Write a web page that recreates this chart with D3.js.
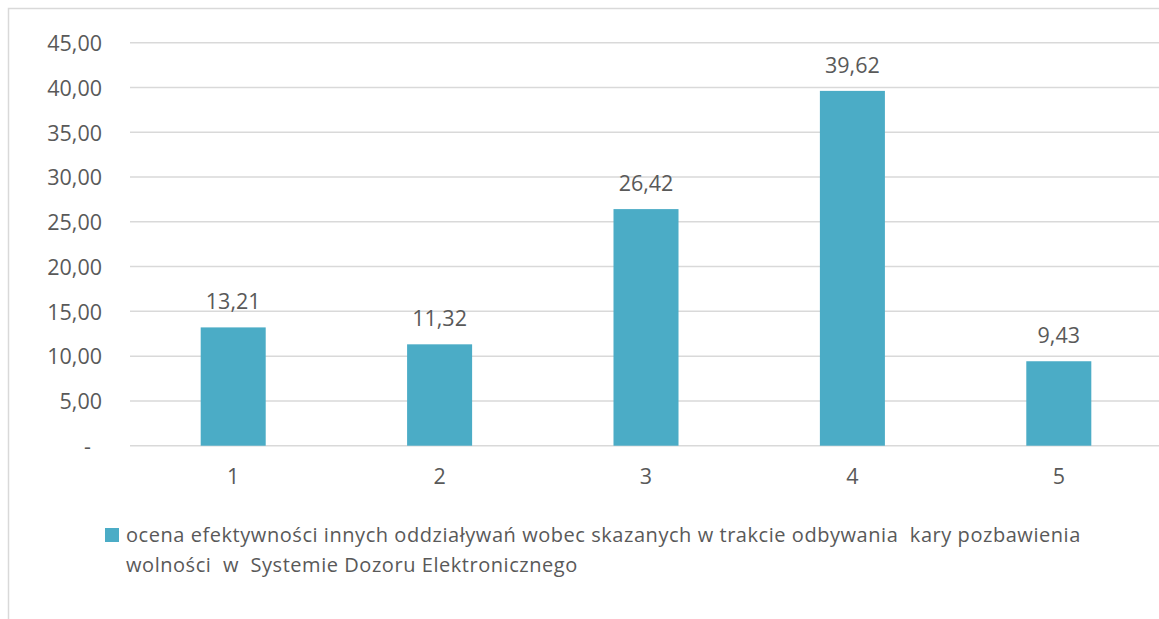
<!DOCTYPE html>
<html>
<head>
<meta charset="utf-8">
<script src="https://cdn.jsdelivr.net/npm/d3@7"></script>
<style>
  html, body { margin: 0; padding: 0; background: #fff; }
  svg { display: block; }
</style>
</head>
<body>
<svg id="chart" width="1159" height="619"></svg>
<script>
const categories = ["1", "2", "3", "4", "5"];
const values = [13.21, 11.32, 26.42, 39.62, 9.43];
const yTicks = [0, 5, 10, 15, 20, 25, 30, 35, 40, 45];
const legendLines = [
  "ocena efektywności innych oddziaływań wobec skazanych w trakcie odbywania  kary pozbawienia",
  "wolności  w  Systemie Dozoru Elektronicznego"
];

const W = 1159, H = 619;
const font = "'Open Sans', 'Noto Sans', sans-serif";
const textColor = "#595959";
const gridColor = "#d9d9d9";
const barColor = "#4bacc6";

const svg = d3.select("#chart");

// outer chart border (extends past the visible window on right/bottom)
svg.append("rect")
  .attr("x", 8.5).attr("y", 8.5)
  .attr("width", W + 50).attr("height", H + 50)
  .attr("fill", "#fff")
  .attr("stroke", gridColor).attr("stroke-width", 1.5);

const x = d3.scaleBand()
  .domain(categories)
  .range([130, 1162])
  .paddingInner(0.685)
  .paddingOuter(0.3425);

const y = d3.scaleLinear()
  .domain([0, 45])
  .range([445.7, 42.7]);

const fmt = v => v === 0 ? "-" : d3.format(".2f")(v).replace(".", ",");

// gridlines
svg.append("g")
  .selectAll("line")
  .data(yTicks)
  .join("line")
  .attr("x1", 130).attr("x2", W + 5)
  .attr("y1", d => y(d)).attr("y2", d => y(d))
  .attr("stroke", gridColor).attr("stroke-width", 1.5);

// y axis labels
const yAxis = d3.axisLeft(y).tickValues(yTicks).tickFormat(fmt).tickSize(0).tickPadding(0);
const gy = svg.append("g").attr("transform", "translate(102,0)").call(yAxis);
gy.select(".domain").remove();
gy.selectAll("text")
  .attr("font-family", font).attr("font-size", 21.5)
  .attr("fill", textColor)
  .attr("dy", "0.36em")
  .attr("x", d => d === 0 ? -11 : 0);

// bars
svg.append("g")
  .selectAll("rect")
  .data(values)
  .join("rect")
  .attr("x", (d, i) => x(categories[i]))
  .attr("width", x.bandwidth())
  .attr("y", d => y(d))
  .attr("height", d => y(0) - y(d))
  .attr("fill", barColor);

// data labels
svg.append("g")
  .selectAll("text")
  .data(values)
  .join("text")
  .attr("x", (d, i) => x(categories[i]) + x.bandwidth() / 2)
  .attr("y", d => y(d) - 18)
  .attr("text-anchor", "middle")
  .attr("font-family", font).attr("font-size", 21.5)
  .attr("fill", textColor)
  .text(d => fmt(d));

// x axis labels
const xAxis = d3.axisBottom(x).tickSize(0).tickPadding(0);
const gx = svg.append("g").attr("transform", `translate(0,${y(0)})`).call(xAxis);
gx.select(".domain").remove();
gx.selectAll("text")
  .attr("font-family", font).attr("font-size", 21.5)
  .attr("fill", textColor)
  .attr("dy", null)
  .attr("y", 38.5);

// legend
svg.append("rect")
  .attr("x", 105).attr("y", 528)
  .attr("width", 14).attr("height", 14)
  .attr("fill", barColor);

const lg = svg.append("text")
  .attr("font-family", font).attr("font-size", 20)
  .attr("letter-spacing", 0.55)
  .attr("fill", textColor)
  .attr("xml:space", "preserve")
  .style("white-space", "pre");
lg.selectAll("tspan")
  .data(legendLines)
  .join("tspan")
  .attr("x", 126)
  .attr("y", (d, i) => 542 + i * 29.5)
  .text(d => d);
</script>
</body>
</html>
